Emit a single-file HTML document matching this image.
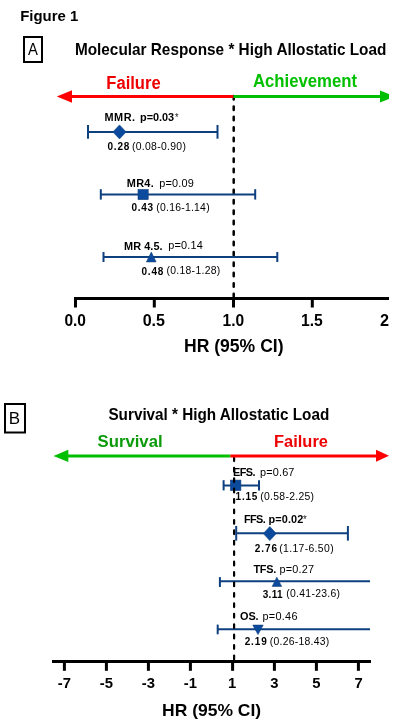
<!DOCTYPE html>
<html><head><meta charset="utf-8">
<style>
html,body{margin:0;padding:0;background:#fff;width:395px;height:727px;overflow:hidden}
svg{display:block;will-change:transform}
text{font-family:"Liberation Sans",sans-serif;white-space:pre}
</style></head><body>
<svg width="395" height="727" viewBox="0 0 395 727">
<!-- ===== Panel A ===== -->
<rect x="24" y="37" width="18" height="25" fill="none" stroke="#000" stroke-width="2"/>

<!-- dashed line A -->
<line x1="233.7" y1="96.05" x2="233.7" y2="298" stroke="#000" stroke-width="2.5" stroke-linecap="round" stroke-dasharray="3.5 6.9"/>

<!-- arrows A -->
<rect x="70" y="95" width="163.5" height="3" fill="#ff0000"/>
<polygon points="56.8,96.5 72,90.3 72,102.7" fill="#ff0000"/>
<rect x="233.5" y="95" width="148" height="3" fill="#00be00"/>
<polygon points="380,90.5 395,96.5 380,102.5" fill="#00be00"/>
<rect x="389" y="85" width="6" height="20" fill="#fff"/>


<!-- axis A -->
<rect x="74" y="297" width="315" height="3" fill="#000"/>
<rect x="74" y="297" width="3" height="10.5" fill="#000"/>
<rect x="152.8" y="297" width="3" height="10.5" fill="#000"/>
<rect x="232" y="297" width="3" height="10.5" fill="#000"/>
<rect x="310.8" y="297" width="3" height="10.5" fill="#000"/>

<!-- rows A -->
<g stroke="#0e4080" stroke-width="2" fill="none">
<line x1="88" y1="132" x2="217.5" y2="132"/>
<line x1="88" y1="125" x2="88" y2="138.7"/>
<line x1="217.5" y1="125" x2="217.5" y2="138.7"/>
<line x1="100.8" y1="194.5" x2="255.2" y2="194.5"/>
<line x1="100.8" y1="189.2" x2="100.8" y2="199.6"/>
<line x1="255.2" y1="189.2" x2="255.2" y2="199.6"/>
<line x1="103.5" y1="257" x2="277.3" y2="257"/>
<line x1="103.5" y1="252" x2="103.5" y2="262"/>
<line x1="277.3" y1="252" x2="277.3" y2="262"/>
</g>
<g fill="#0b4a9c" stroke="#113f7c" stroke-width="0.6">
<polygon points="119.5,124.9 126.1,131.9 119.5,138.9 112.9,131.9"/>
<rect x="138" y="189.5" width="10.2" height="10.1"/>
<polygon points="151.3,252.1 156.1,261.9 146.4,261.9"/>
</g>

<!-- ===== Panel B ===== -->
<rect x="5" y="404" width="20" height="28.5" fill="none" stroke="#000" stroke-width="2"/>

<!-- rows B -->
<g stroke="#0e4080" stroke-width="2" fill="none">
<line x1="223.6" y1="485.5" x2="259" y2="485.5"/>
<line x1="223.6" y1="480.2" x2="223.6" y2="490.4"/>
<line x1="259" y1="480.2" x2="259" y2="490.4"/>
<line x1="236.2" y1="533.2" x2="347.9" y2="533.2"/>
<line x1="236.2" y1="526" x2="236.2" y2="540.6"/>
<line x1="347.9" y1="526" x2="347.9" y2="540.6"/>
<line x1="219.9" y1="581.3" x2="370" y2="581.3"/>
<line x1="219.9" y1="577.1" x2="219.9" y2="587"/>
<line x1="217.7" y1="629.3" x2="370" y2="629.3"/>
<line x1="217.7" y1="624.6" x2="217.7" y2="634.3"/>
</g>
<g fill="#0b4a9c" stroke="#113f7c" stroke-width="0.6">
<rect x="230.4" y="480.1" width="10.5" height="10.4"/>
<polygon points="269.8,526.6 276.3,533.6 269.8,540.6 263.3,533.6"/>
<polygon points="276.8,577.2 281.7,586.4 272.2,586.4"/>
<polygon points="252.8,625.1 263.2,625.1 258,634.6"/>
</g>

<!-- dashed line B -->
<line x1="234.1" y1="457.4" x2="234.1" y2="660" stroke="#000" stroke-width="2.2" stroke-linecap="round" stroke-dasharray="3.7 6.73"/>

<!-- arrows B -->
<rect x="66" y="454.5" width="164.4" height="3" fill="#00be00"/>
<polygon points="53.5,456 68.3,449.8 68.3,462.1" fill="#00be00"/>
<rect x="230.4" y="454.5" width="147" height="3" fill="#ff0000"/>
<polygon points="376,449.8 389,455.8 376,461.8" fill="#ff0000"/>

<!-- axis B -->
<rect x="52" y="660" width="319" height="3" fill="#000"/>
<g fill="#000">
<rect x="62.9" y="660" width="3" height="10.8"/>
<rect x="104.9" y="660" width="3" height="10.8"/>
<rect x="146.9" y="660" width="3" height="10.8"/>
<rect x="188.9" y="660" width="3" height="10.8"/>
<rect x="231.1" y="660" width="3" height="10.8"/>
<rect x="272.9" y="660" width="3" height="10.8"/>
<rect x="314.9" y="660" width="3" height="10.8"/>
<rect x="356.9" y="660" width="3" height="10.8"/>
</g>

<!-- ===== Texts ===== -->
<text transform="translate(20.23 20.70) scale(0.9726 1)" font-size="15.36" font-weight="bold">Figure 1</text>
<text transform="translate(27.93 54.70) scale(0.9148 1)" font-size="16.23">A</text>
<text transform="translate(74.90 54.50) scale(0.9539 1)" font-size="16.09" font-weight="bold">Molecular Response * High Allostatic Load</text>
<text transform="translate(106.32 88.50) scale(0.9297 1)" font-size="17.83" font-weight="bold" fill="#ee0000">Failure</text>
<text transform="translate(252.88 86.80) scale(0.9255 1)" font-size="18.12" font-weight="bold" fill="#00c000">Achievement</text>
<text transform="translate(64.38 325.60) scale(0.9169 1)" font-size="16.90" font-weight="bold">0.0</text>
<text transform="translate(142.66 325.60) scale(0.9503 1)" font-size="16.90" font-weight="bold">0.5</text>
<text transform="translate(222.59 325.60) scale(0.9210 1)" font-size="16.90" font-weight="bold">1.0</text>
<text transform="translate(300.98 325.60) scale(0.9276 1)" font-size="16.90" font-weight="bold">1.5</text>
<text transform="translate(379.93 325.60) scale(0.9615 1)" font-size="16.90" font-weight="bold">2</text>
<text transform="translate(183.96 351.70) scale(1.0029 1)" font-size="17.54" font-weight="bold">HR (95% CI)</text>
<text transform="translate(8.74 424.10) scale(0.9863 1)" font-size="17.25">B</text>
<text transform="translate(108.44 419.90) scale(0.8963 1)" font-size="17.04" font-weight="bold">Survival * High Allostatic Load</text>
<text transform="translate(97.60 446.50) scale(1.0402 1)" font-size="16.06" font-weight="bold" fill="#0a9a0a">Survival</text>
<text transform="translate(274.03 446.90) scale(0.9617 1)" font-size="17.10" font-weight="bold" fill="#ee0000">Failure</text>
<text transform="translate(57.73 687.80) scale(0.9700 1)" font-size="15.30" font-weight="bold">-7</text>
<text transform="translate(99.72 687.80) scale(0.9700 1)" font-size="15.30" font-weight="bold">-5</text>
<text transform="translate(141.80 687.80) scale(0.9700 1)" font-size="15.30" font-weight="bold">-3</text>
<text transform="translate(183.72 687.80) scale(0.9700 1)" font-size="15.30" font-weight="bold">-1</text>
<text transform="translate(227.98 687.80) scale(0.9700 1)" font-size="15.30" font-weight="bold">1</text>
<text transform="translate(270.36 687.80) scale(0.9700 1)" font-size="15.30" font-weight="bold">3</text>
<text transform="translate(312.24 687.80) scale(0.9700 1)" font-size="15.30" font-weight="bold">5</text>
<text transform="translate(354.48 687.80) scale(0.9700 1)" font-size="15.30" font-weight="bold">7</text>
<text transform="translate(162.06 715.70) scale(1.0135 1)" font-size="17.25" font-weight="bold">HR (95% CI)</text>
<text transform="translate(104.49 120.80)" font-size="10.90" font-weight="bold" letter-spacing="0.523">MMR.</text>
<text transform="translate(140.09 120.50)" font-size="10.90" font-weight="bold" letter-spacing="-0.067">p=0.03</text>
<text transform="translate(107.40 149.80)" font-size="10.00" font-weight="bold" letter-spacing="0.850">0.28</text>
<text transform="translate(131.98 149.80)" font-size="10.40" letter-spacing="0.309">(0.08-0.90)</text>
<text transform="translate(126.79 187.40)" font-size="10.90" font-weight="bold" letter-spacing="0.307">MR4.</text>
<text transform="translate(159.19 186.80)" font-size="10.90" letter-spacing="0.195">p=0.09</text>
<text transform="translate(131.40 210.50)" font-size="10.00" font-weight="bold" letter-spacing="0.767">0.43</text>
<text transform="translate(156.28 210.50)" font-size="10.40" letter-spacing="0.249">(0.16-1.14)</text>
<text transform="translate(124.09 249.70)" font-size="10.90" font-weight="bold" letter-spacing="0.061">MR 4.5.</text>
<text transform="translate(168.29 248.90)" font-size="10.90" letter-spacing="0.162">p=0.14</text>
<text transform="translate(141.40 274.60)" font-size="10.00" font-weight="bold" letter-spacing="0.850">0.48</text>
<text transform="translate(166.38 274.20)" font-size="10.40" letter-spacing="0.309">(0.18-1.28)</text>
<text transform="translate(233.09 476.30)" font-size="10.90" font-weight="bold" letter-spacing="-0.594">EFS.</text>
<text transform="translate(260.09 476.30)" font-size="10.90" letter-spacing="0.145">p=0.67</text>
<text transform="translate(235.55 500.10)" font-size="10.00" font-weight="bold" letter-spacing="0.783">1.15</text>
<text transform="translate(260.28 499.70)" font-size="10.40" letter-spacing="0.289">(0.58-2.25)</text>
<text transform="translate(243.89 523.00)" font-size="10.90" font-weight="bold" letter-spacing="-0.560">FFS.</text>
<text transform="translate(268.59 523.10)" font-size="10.90" font-weight="bold" letter-spacing="0.084">p=0.02</text>
<text transform="translate(254.65 552.40)" font-size="10.00" font-weight="bold" letter-spacing="0.983">2.76</text>
<text transform="translate(279.18 552.00)" font-size="10.40" letter-spacing="0.359">(1.17-6.50)</text>
<text transform="translate(253.49 573.40)" font-size="10.90" font-weight="bold" letter-spacing="-0.294">TFS.</text>
<text transform="translate(279.39 573.20)" font-size="10.90" letter-spacing="0.205">p=0.27</text>
<text transform="translate(262.65 597.70)" font-size="10.00" font-weight="bold" letter-spacing="0.333">3.11</text>
<text transform="translate(286.28 597.40)" font-size="10.40" letter-spacing="0.289">(0.41-23.6)</text>
<text transform="translate(239.96 620.30)" font-size="10.90" font-weight="bold" letter-spacing="-0.052">OS.</text>
<text transform="translate(262.39 620.30)" font-size="10.90" letter-spacing="0.294">p=0.46</text>
<text transform="translate(244.65 644.90)" font-size="10.00" font-weight="bold" letter-spacing="0.883">2.19</text>
<text transform="translate(269.78 645.00)" font-size="10.40" letter-spacing="0.256">(0.26-18.43)</text>
<text transform="translate(175.06 120.70) scale(0.9014 1)" font-size="10.00" fill="#222">*</text>
<text transform="translate(303.06 523.20) scale(0.9577 1)" font-size="10.00" fill="#222">*</text>
</svg>
</body></html>
